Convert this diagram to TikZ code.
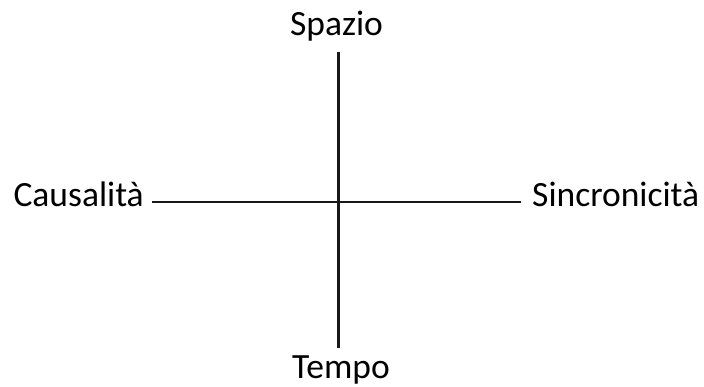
\documentclass[tikz,border=0pt]{standalone}
\usepackage{fontspec}
\setmainfont{Carlito}
\begin{document}
\begin{tikzpicture}[x=1pt,y=1pt,
  lbl/.style={inner sep=0pt, font=\fontsize{35.5}{40}\selectfont, text=black},
  axis/.style={line width=2.2pt, draw=black!90}]
\useasboundingbox (0,0) rectangle (704,387);
\node[lbl, anchor=base] (spazio) at (336.5,351) {Spazio};
\node[lbl, anchor=base] (tempo) at (341,8) {Tempo};
\node[lbl, anchor=base east] (caus) at (144,180) {Causalità};
\node[lbl, anchor=base west] (sinc) at (532,180) {Sincronicità};
\coordinate (top) at (338.5,335);
\coordinate (bot) at (338.5,39);
\coordinate (left) at (152,185);
\coordinate (right) at (521,185);
\draw[axis] (top) -- (bot);
\draw[axis] (left) -- (right);
\end{tikzpicture}
\end{document}
